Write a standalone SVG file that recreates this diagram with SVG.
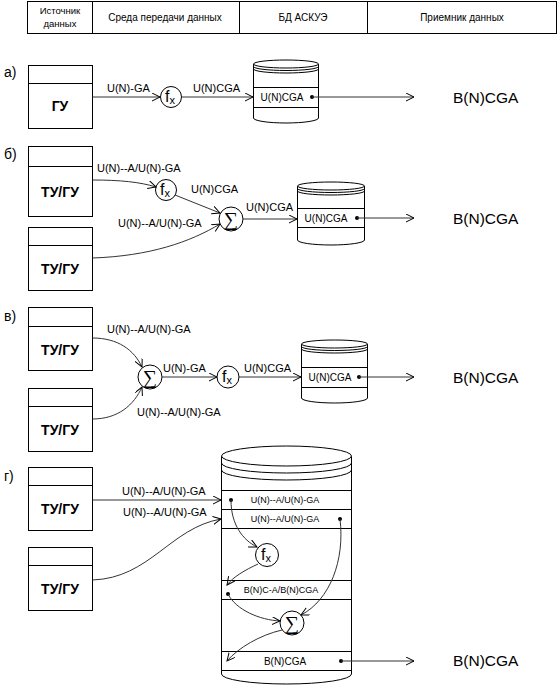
<svg xmlns="http://www.w3.org/2000/svg" width="560" height="687" viewBox="0 0 560 687">
<style>
text{font-family:"Liberation Sans",Arial,sans-serif;fill:#000}
.hd{font-size:10px;text-anchor:middle}
.sec{font-size:14px}
.nm{font-size:14px;font-weight:bold;text-anchor:middle}
.lb{font-size:11px}
.in{font-size:10px;text-anchor:middle}
.in9{font-size:9px;text-anchor:middle}
.big{font-size:15.5px}
.fx{font-size:16px}
.sg{font-family:"Liberation Serif","DejaVu Serif",serif;font-size:20px;text-anchor:middle}
.s{fill:none;stroke:#000;stroke-width:1}
.c{fill:none;stroke:#333;stroke-width:1}
.w{fill:#fff;stroke:#000;stroke-width:1}
</style>
<defs>
<marker id="ar" markerWidth="10" markerHeight="10" refX="8" refY="4" orient="auto" markerUnits="userSpaceOnUse">
<path d="M0,0 L8,4 L0,8" fill="none" stroke="#000" stroke-width="1"/>
</marker>
</defs>
<g id="header">
<rect class="w" x="27.5" y="1.5" width="529" height="32"/>
<line class="s" x1="92.5" y1="1.5" x2="92.5" y2="33.5"/>
<line class="s" x1="239.5" y1="1.5" x2="239.5" y2="33.5"/>
<line class="s" x1="367.5" y1="1.5" x2="367.5" y2="33.5"/>
<text class="hd" x="60" y="14" style="font-size:9.5px">Источник</text>
<text class="hd" x="60" y="27" style="font-size:9.5px">данных</text>
<text class="hd" x="165" y="21">Среда передачи данных</text>
<text class="hd" x="303" y="21">БД АСКУЭ</text>
<text class="hd" x="462" y="21">Приемник данных</text>
</g>
<g id="labels">
<text class="sec" x="4" y="77">а)</text>
<text class="sec" x="4" y="159">б)</text>
<text class="sec" x="4" y="321">в)</text>
<text class="sec" x="4" y="481">г)</text>
</g>
<g id="node-a-gu">
<rect class="w" x="28.5" y="65.5" width="64" height="63"/>
<line class="s" x1="28.5" y1="83.5" x2="92.5" y2="83.5"/>
<text class="nm" x="60" y="111">ГУ</text>
</g>
<g id="node-a-fx">
<circle class="w" cx="171" cy="97" r="10.5"/>
<text class="fx" x="165" y="102">f<tspan font-size="11" dy="2">x</tspan></text>
</g>
<g id="node-a-db">
<path class="w" d="M253.5,64 V118 A32.5,5 0 0 0 318.5,118 V64"/>
<ellipse class="w" cx="286" cy="64" rx="32.5" ry="4"/>
<path class="s" d="M253.5,66.5 A32.5,4 0 0 0 318.5,66.5 M253.5,69 A32.5,4 0 0 0 318.5,69"/>
<path class="s" d="M253.5,87.5 H318.5 M253.5,107.5 H318.5"/>
<text class="in" x="282" y="101">U(N)CGA</text>
<circle cx="312" cy="97" r="2"/>
</g>
<g id="node-a-out"><text class="big" x="453" y="103">B(N)CGA</text></g>

<g id="node-b-tu1">
<rect class="w" x="28.5" y="146.5" width="64" height="70"/>
<line class="s" x1="28.5" y1="166.5" x2="92.5" y2="166.5"/>
<text class="nm" x="60" y="197">ТУ/ГУ</text>
</g>
<g id="node-b-tu2">
<rect class="w" x="28.5" y="227.5" width="64" height="63"/>
<line class="s" x1="28.5" y1="245.5" x2="92.5" y2="245.5"/>
<text class="nm" x="60" y="274">ТУ/ГУ</text>
</g>
<g id="node-b-fx">
<circle class="w" cx="166" cy="190" r="10.5"/>
<text class="fx" x="160" y="195">f<tspan font-size="11" dy="2">x</tspan></text>
</g>
<g id="node-b-sum">
<circle class="w" cx="231" cy="219" r="12"/>
<text class="sg" x="231" y="226">∑</text>
</g>
<g id="node-b-db">
<path class="w" d="M297.5,186 V240 A33.5,5 0 0 0 364.5,240 V186"/>
<ellipse class="w" cx="331" cy="186" rx="33.5" ry="4"/>
<path class="s" d="M297.5,188.5 A33.5,4 0 0 0 364.5,188.5 M297.5,191 A33.5,4 0 0 0 364.5,191"/>
<path class="s" d="M297.5,208.5 H364.5 M297.5,227.5 H364.5"/>
<text class="in" x="326" y="222">U(N)CGA</text>
<circle cx="357" cy="218" r="2"/>
</g>
<g id="node-b-out"><text class="big" x="453" y="224">B(N)CGA</text></g>

<g id="node-c-tu1">
<rect class="w" x="28.5" y="307.5" width="64" height="63"/>
<line class="s" x1="28.5" y1="326.5" x2="92.5" y2="326.5"/>
<text class="nm" x="60" y="355">ТУ/ГУ</text>
</g>
<g id="node-c-tu2">
<rect class="w" x="28.5" y="388.5" width="64" height="63"/>
<line class="s" x1="28.5" y1="406.5" x2="92.5" y2="406.5"/>
<text class="nm" x="60" y="435">ТУ/ГУ</text>
</g>
<g id="node-c-sum">
<circle class="w" cx="150" cy="377" r="12"/>
<text class="sg" x="150" y="384">∑</text>
</g>
<g id="node-c-fx">
<circle class="w" cx="228" cy="377" r="11"/>
<text class="fx" x="222" y="382">f<tspan font-size="11" dy="2">x</tspan></text>
</g>
<g id="node-c-db">
<path class="w" d="M301.5,344 V398 A33,5 0 0 0 367.5,398 V344"/>
<ellipse class="w" cx="334.5" cy="344" rx="33" ry="4"/>
<path class="s" d="M301.5,346.5 A33,4 0 0 0 367.5,346.5 M301.5,349 A33,4 0 0 0 367.5,349"/>
<path class="s" d="M301.5,367.5 H367.5 M301.5,387.5 H367.5"/>
<text class="in" x="330" y="381">U(N)CGA</text>
<circle cx="359" cy="377" r="2"/>
</g>
<g id="node-c-out"><text class="big" x="453" y="383">B(N)CGA</text></g>

<g id="node-d-tu1">
<rect class="w" x="28.5" y="467.5" width="64" height="63"/>
<line class="s" x1="28.5" y1="485.5" x2="92.5" y2="485.5"/>
<text class="nm" x="60" y="514">ТУ/ГУ</text>
</g>
<g id="node-d-tu2">
<rect class="w" x="28.5" y="547.5" width="64" height="63"/>
<line class="s" x1="28.5" y1="565.5" x2="92.5" y2="565.5"/>
<text class="nm" x="60" y="594">ТУ/ГУ</text>
</g>
<g id="node-d-db">
<path class="w" d="M221.5,456 V674 A65,10 0 0 0 351.5,674 V456"/>
<ellipse class="w" cx="286.5" cy="456" rx="65" ry="10"/>
<path class="s" d="M221.5,463 A65,10 0 0 0 351.5,463 M221.5,470 A65,10 0 0 0 351.5,470"/>
<path class="s" d="M221.5,490.5 H351.5 M221.5,509.5 H351.5 M221.5,528.5 H351.5 M221.5,580.5 H351.5 M221.5,599.5 H351.5 M221.5,651.5 H351.5 M221.5,670.5 H351.5"/>
<text class="in9" x="285" y="503">U(N)--A/U(N)-GA</text>
<text class="in9" x="285" y="522">U(N)--A/U(N)-GA</text>
<text class="in9" x="281" y="593">B(N)C-A/B(N)CGA</text>
<text class="in" x="285" y="665">B(N)CGA</text>
<circle cx="231" cy="500" r="2"/>
<circle cx="340" cy="519" r="2"/>
<circle cx="228" cy="594" r="2"/>
<circle cx="341" cy="661" r="2"/>
</g>
<g id="node-d-fx">
<circle class="w" cx="267" cy="555" r="11.5"/>
<text class="fx" x="261" y="560">f<tspan font-size="11" dy="2">x</tspan></text>
</g>
<g id="node-d-sum">
<circle class="w" cx="292" cy="623" r="12"/>
<text class="sg" x="292" y="630">∑</text>
</g>
<g id="node-d-out"><text class="big" x="453" y="666">B(N)CGA</text></g>

<g id="connectors">
<path class="c" d="M92.5,97 H160" marker-end="url(#ar)"/>
<path class="c" d="M181.5,97 H253" marker-end="url(#ar)"/>
<path class="c" d="M312,97 H414" marker-end="url(#ar)"/>

<path class="c" d="M92.5,180 C120,180 140,182 156,187" marker-end="url(#ar)"/>
<path class="c" d="M175,195 L220,213" marker-end="url(#ar)"/>
<path class="c" d="M92.5,258 C150,256 190,242 220,224" marker-end="url(#ar)"/>
<path class="c" d="M243,219 H297" marker-end="url(#ar)"/>
<path class="c" d="M357,218 H414" marker-end="url(#ar)"/>

<path class="c" d="M92.5,338 C118,338 134,350 142,367" marker-end="url(#ar)"/>
<path class="c" d="M92.5,419 C118,419 134,405 142,387" marker-end="url(#ar)"/>
<path class="c" d="M162,377 H217" marker-end="url(#ar)"/>
<path class="c" d="M239,377 H301" marker-end="url(#ar)"/>
<path class="c" d="M359,377 H414" marker-end="url(#ar)"/>

<path class="c" d="M92.5,500 H221" marker-end="url(#ar)"/>
<path class="c" d="M92.5,580 C150,578 170,528 221,519" marker-end="url(#ar)"/>
<path class="c" d="M231,500 C231,525 243,540 257,547" marker-end="url(#ar)"/>
<path class="c" d="M258,564 C245,570 233,577 227,585" marker-end="url(#ar)"/>
<path class="c" d="M228,594 C236,610 260,620 280,621" marker-end="url(#ar)"/>
<path class="c" d="M340,519 C345,560 330,600 301,615" marker-end="url(#ar)"/>
<path class="c" d="M282,630 C260,635 238,648 227,661" marker-end="url(#ar)"/>
<path class="c" d="M341,661 H414" marker-end="url(#ar)"/>

<text class="lb" x="107" y="92">U(N)-GA</text>
<text class="lb" x="193" y="92">U(N)CGA</text>
<text class="lb" x="97" y="172">U(N)--A/U(N)-GA</text>
<text class="lb" x="191" y="193">U(N)CGA</text>
<text class="lb" x="118" y="227">U(N)--A/U(N)-GA</text>
<text class="lb" x="246" y="211">U(N)CGA</text>
<text class="lb" x="107" y="333">U(N)--A/U(N)-GA</text>
<text class="lb" x="163" y="372">U(N)-GA</text>
<text class="lb" x="244" y="372">U(N)CGA</text>
<text class="lb" x="137" y="416">U(N)--A/U(N)-GA</text>
<text class="lb" x="122" y="495">U(N)--A/U(N)-GA</text>
<text class="lb" x="123" y="516">U(N)--A/U(N)-GA</text>
</g>
</svg>
